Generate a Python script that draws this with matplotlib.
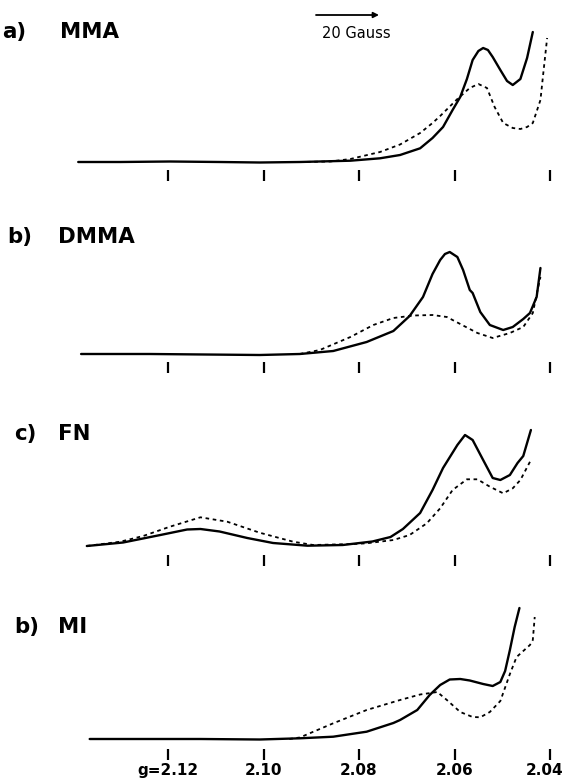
import matplotlib.pyplot as plt
from matplotlib.transforms import ScaledTranslation, blended_transform_factory

# field position in tick intervals (0 = g 2.12 ... 4 = g 2.04), signal height in arbitrary units
tick_pos = [0, 1, 2, 3, 4]
tick_labels = ["g=2.12", "2.10", "2.08", "2.06", "2.04"]

panel_letters = ["a)", "b)", "c)", "b)"]
panel_names = ["MMA", "DMMA", "FN", "MI"]

mma_solid_x = [-0.94, -0.50, 0.02, 0.54, 0.96, 1.38, 1.91, 2.22, 2.43, 2.64, 2.77, 2.88, 2.98,
               3.06, 3.13, 3.19, 3.25, 3.30, 3.35, 3.40, 3.48, 3.55, 3.61, 3.69, 3.76, 3.82]
mma_solid_y = [0, 0, 0.5, 0, -0.5, 0, 1.3, 3.7, 7, 13.7, 24, 35, 52,
               65, 83, 102, 111, 114, 112, 105, 92, 81, 77, 83, 104, 130]
mma_dash_x = [1.38, 1.70, 1.91, 2.22, 2.43, 2.64, 2.77, 2.85, 3.03, 3.16, 3.25, 3.34, 3.42,
              3.51, 3.61, 3.69, 3.76, 3.82, 3.90, 3.93, 3.97]
mma_dash_y = [0, 0.5, 3, 10, 17.5, 29, 39, 46, 63, 74, 78, 74, 55,
              39, 34, 33, 35, 39, 62, 89, 124]

dmma_solid_x = [-0.91, -0.19, 0.96, 1.38, 1.73, 2.08, 2.36, 2.53, 2.67, 2.77, 2.85, 2.90, 2.95,
                3.03, 3.09, 3.16, 3.19, 3.27, 3.37, 3.51, 3.61, 3.72, 3.79, 3.86, 3.90]
dmma_solid_y = [0, 0, -1, 0, 3, 12, 23, 38, 57, 80, 94, 100, 102,
                97, 84, 64, 61, 42, 29, 24, 27, 35, 41, 57, 86]
dmma_dash_x = [1.38, 1.59, 1.91, 2.15, 2.36, 2.57, 2.77, 2.92, 3.06, 3.24, 3.40, 3.58, 3.72,
               3.82, 3.87, 3.90]
dmma_dash_y = [0, 4, 17, 29, 36, 38.5, 39, 37, 30, 21, 16, 21, 27,
               41, 64, 77]

fn_solid_x = [-0.85, -0.47, -0.08, 0.20, 0.34, 0.54, 0.83, 1.10, 1.46, 1.83, 2.14, 2.33, 2.46,
              2.64, 2.77, 2.88, 3.03, 3.11, 3.19, 3.30, 3.40, 3.48, 3.58, 3.66, 3.72, 3.80]
fn_solid_y = [0, 3.5, 11, 16.5, 17, 14.5, 8, 3, 0.3, 1, 4.5, 9, 17,
              33, 56, 78, 101, 111, 106, 86, 68, 66, 71, 83, 90, 116]
fn_dash_x = [-0.85, -0.50, -0.26, 0.02, 0.34, 0.62, 0.96, 1.31, 1.52, 1.95, 2.08, 2.36, 2.53,
             2.71, 2.85, 2.98, 3.13, 3.24, 3.37, 3.51, 3.61, 3.69, 3.80]
fn_dash_y = [0, 4.3, 10, 19.3, 28.7, 24.3, 13.3, 4.3, 1, 2, 2.7, 6, 11,
             22.7, 37.7, 56, 66.7, 66.7, 59.3, 52.7, 57.7, 66, 86]

mi_solid_x = [-0.82, 0.34, 0.96, 1.38, 1.73, 2.08, 2.36, 2.43, 2.61, 2.74, 2.85, 2.95, 3.06,
              3.16, 3.30, 3.40, 3.48, 3.53, 3.58, 3.63, 3.68]
mi_solid_y = [0, 0, -0.5, 0.7, 2.3, 7.3, 16, 19, 29, 44, 54, 59.5, 60,
              58.5, 55, 53, 57, 68, 89, 112, 131]
mi_dash_x = [1.27, 1.38, 1.73, 2.08, 2.43, 2.64, 2.82, 2.92, 3.06, 3.19, 3.27, 3.37, 3.48,
             3.58, 3.65, 3.79, 3.82, 3.84]
mi_dash_y = [0, 1.5, 15.7, 29, 39, 44.5, 47, 39, 27, 22, 21.7, 27, 38,
             65, 82, 94, 99, 122]

solid_x = [mma_solid_x, dmma_solid_x, fn_solid_x, mi_solid_x]
solid_y = [mma_solid_y, dmma_solid_y, fn_solid_y, mi_solid_y]
dash_x = [mma_dash_x, dmma_dash_x, fn_dash_x, mi_dash_x]
dash_y = [mma_dash_y, dmma_dash_y, fn_dash_y, mi_dash_y]

# layout, in pixels of the 566x782 figure
W, H = 566, 782
baselines = [162, 354, 546, 739]
title_h = [124, 111, 106, 106]
letter_left = [2, 7, 14, 14]
name_left = [60, 58, 58, 58]
tick_drop = [8, 8, 9, 10]
u0_px, px_per_u = 168, 95.5
ylo, yhi = -25, 150

fig = plt.figure(figsize=(W / 100, H / 100), dpi=100)
fig.patch.set_facecolor("white")

for i in range(4):
    bottom_px = baselines[i] - ylo
    ax = fig.add_axes([0, 1 - bottom_px / H, 1, (yhi - ylo) / H])
    ax.set_xlim(-u0_px / px_per_u, (W - u0_px) / px_per_u)
    ax.set_ylim(ylo, yhi)
    ax.patch.set_alpha(0)

    ax.plot(solid_x[i], solid_y[i], color="black", lw=1.7,
            solid_capstyle="round", solid_joinstyle="round")
    ax.plot(dash_x[i], dash_y[i], color="black", lw=1.3, linestyle=(0, (2, 2)))

    for side in ["top", "left", "right"]:
        ax.spines[side].set_visible(False)
    ax.spines["bottom"].set_position(("data", -tick_drop[i]))
    ax.spines["bottom"].set_visible(False)
    ax.set_yticks([])
    ax.set_xticks(tick_pos)
    ax.tick_params(axis="x", direction="out", length=8, width=1.6, pad=2)
    if i == 3:
        ax.set_xticklabels(tick_labels, fontsize=11, fontweight="bold")
        # last label sits at the right edge; nudge it in a little
        last = ax.get_xticklabels()[-1]
        last.set_transform(last.get_transform() +
                           ScaledTranslation(-5 / 100, 0, fig.dpi_scale_trans))
    else:
        ax.set_xticklabels([])

    tr = blended_transform_factory(ax.transAxes, ax.transData)
    ax.text(letter_left[i] / W, title_h[i], panel_letters[i], transform=tr,
            fontsize=15.4, fontweight="bold", va="baseline", ha="left")
    ax.text(name_left[i] / W, title_h[i], panel_names[i], transform=tr,
            fontsize=15.4, fontweight="bold", va="baseline", ha="left")

    if i == 0:
        # 20 Gauss scale bar
        ax.annotate("", xy=(379 / W, 147), xytext=(316 / W, 147),
                    xycoords=tr, textcoords=tr,
                    arrowprops=dict(arrowstyle="-|>", lw=1.3, color="black",
                                    mutation_scale=8, shrinkA=0, shrinkB=0))
        ax.text(322 / W, 124, "20 Gauss", transform=tr, fontsize=10.5,
                va="baseline", ha="left")

fig.savefig("out.png", dpi=100)
